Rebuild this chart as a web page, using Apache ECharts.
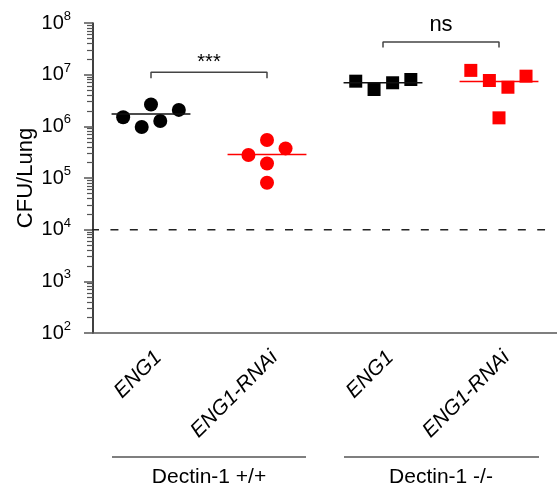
<!DOCTYPE html>
<html>
<head>
<meta charset="utf-8">
<script src="https://cdn.jsdelivr.net/npm/echarts@6/dist/echarts.min.js"></script>
<style>
  html, body { margin: 0; padding: 0; background: #fff; }
  #chart { width: 557px; height: 491px; }
</style>
</head>
<body>
<div id="chart"></div>
<script>
// categories on the x axis
const categories = ['ENG1', 'ENG1-RNAi', 'ENG1', 'ENG1-RNAi']
const groups = ['Dectin-1 +/+', 'Dectin-1 -/-']
const yTicks = [1e2, 1e3, 1e4, 1e5, 1e6, 1e7, 1e8]
const minorSteps = [2, 3, 4, 5, 6, 7, 8, 9]

// jitter (in category units) and CFU values per group
const wtEng1X = [-0.24, -0.08, 0, 0.08, 0.24]
const wtEng1Y = [1.5e6, 9.7e5, 2.64e6, 1.27e6, 2.08e6]
const wtRnaiX = [-0.16, 0, 0, 0, 0.16]
const wtRnaiY = [2.79e5, 5.45e5, 1.91e5, 8.1e4, 3.74e5]
const koEng1X = [-0.235, -0.077, 0.083, 0.24]
const koEng1Y = [7.48e6, 5.16e6, 6.97e6, 8.07e6]
const koRnaiX = [-0.243, -0.083, 0, 0.077, 0.233]
const koRnaiY = [1.21e7, 7.71e6, 1.46e6, 5.71e6, 9.35e6]

// group means (horizontal bars)
const means = [1.74e6, 2.86e5, 6.97e6, 7.38e6]
const detectionLimit = 1e4

// significance brackets
const brackets = [
  { from: 0, to: 1, top: 1.11e7, foot: 8.5e6, text: '***', textY: 1.75e7 },
  { from: 2, to: 3, top: 4.3e7, foot: 3.37e7, text: 'ns', textY: 9.0e7 }
]

const chart = echarts.init(document.getElementById('chart'))
const font = 'Liberation Sans, Arial, sans-serif'

// minor tick positions for the log axis (2..9 x each decade)
const minorValues = []
yTicks.slice(0, -1).forEach(t => minorSteps.forEach(m => minorValues.push(t * m)))

function pts(center, xs, ys) {
  return xs.map((x, i) => [center + x, ys[i]])
}

const dotSeries = [
  { data: pts(0, wtEng1X, wtEng1Y), symbol: 'circle', color: '#000', size: 14 },
  { data: pts(1, wtRnaiX, wtRnaiY), symbol: 'circle', color: '#ff0000', size: 14 },
  { data: pts(2, koEng1X, koEng1Y), symbol: 'rect', color: '#000', size: 13 },
  { data: pts(3, koRnaiX, koRnaiY), symbol: 'rect', color: '#ff0000', size: 13 }
].map(s => ({
  type: 'scatter',
  xAxisIndex: 1,
  symbol: s.symbol,
  symbolSize: s.size,
  itemStyle: { color: s.color, opacity: 1 },
  data: s.data,
  z: 3
}))

const meanSeries = means.map((m, i) => ({
  type: 'line',
  xAxisIndex: 1,
  symbol: 'none',
  lineStyle: { color: i % 2 ? '#ff0000' : '#111', width: 1.5 },
  data: [[i - 0.34, m], [i + 0.34, m]],
  z: 4
}))

const bracketSeries = brackets.map(b => ({
  type: 'line',
  xAxisIndex: 1,
  symbol: 'none',
  lineStyle: { color: '#444', width: 1.5 },
  data: [[b.from, b.foot], [b.from, b.top], [b.to, b.top], [b.to, b.foot]]
}))

const bracketText = {
  type: 'scatter',
  xAxisIndex: 1,
  symbolSize: 0,
  itemStyle: { opacity: 1 },
  data: brackets.map(b => ({
    value: [(b.from + b.to) / 2, b.textY],
    label: {
      show: true,
      position: 'inside',
      formatter: b.text,
      color: '#000',
      fontFamily: font,
      fontSize: b.text === 'ns' ? 22 : 20
    }
  }))
}

const limitSeries = {
  type: 'line',
  xAxisIndex: 1,
  symbol: 'none',
  lineStyle: { color: '#222', width: 1.5, type: [8, 11.4] },
  data: [[-0.517, detectionLimit], [3.397, detectionLimit]]
}

chart.setOption({
  animation: false,
  grid: { left: 93, top: 23, right: 0, bottom: 158 },
  xAxis: [
    {
      type: 'category',
      data: categories,
      axisLine: { lineStyle: { color: '#555', width: 1.5 } },
      axisTick: { alignWithLabel: true, length: 10, lineStyle: { color: '#555', width: 1.5 } },
      axisLabel: {
        rotate: 45,
        margin: 14,
        verticalAlign: 'top',
        fontSize: 21,
        fontStyle: 'italic',
        fontFamily: font,
        color: '#000',
        interval: 0
      }
    },
    {
      type: 'value',
      min: -0.5,
      max: 3.5,
      show: false
    }
  ],
  yAxis: [
    {
      type: 'log',
      logBase: 10,
      min: yTicks[0],
      max: yTicks[yTicks.length - 1],
      name: 'CFU/Lung',
      nameLocation: 'middle',
      nameGap: 56,
      nameMoveOverlap: false,
      nameTextStyle: { fontSize: 22, fontFamily: font, color: '#000' },
      axisLine: { show: true, onZero: false, lineStyle: { color: '#000', width: 1.5 } },
      axisTick: { show: true, length: 9, lineStyle: { color: '#555', width: 1.5 } },
      splitLine: { show: false },
      axisLabel: {
        margin: 22,
        formatter: v => '{b|10}{s|' + Math.round(Math.log10(v)) + '}',
        rich: {
          b: { fontSize: 20, fontFamily: font, color: '#000', lineHeight: 26 },
          s: { fontSize: 13, fontFamily: font, color: '#000', verticalAlign: 'top', lineHeight: 14 }
        }
      }
    },
    {
      type: 'log',
      logBase: 10,
      min: yTicks[0],
      max: yTicks[yTicks.length - 1],
      position: 'left',
      axisLine: { show: false, onZero: false },
      axisLabel: { show: false },
      splitLine: { show: false },
      axisTick: {
        show: true,
        length: 6,
        customValues: minorValues,
        lineStyle: { color: '#555', width: 1.2 }
      }
    }
  ],
  graphic: [
    { type: 'line', shape: { x1: 112, y1: 457, x2: 306, y2: 457 }, style: { stroke: '#555', lineWidth: 1.5 } },
    { type: 'line', shape: { x1: 344, y1: 457, x2: 539, y2: 457 }, style: { stroke: '#555', lineWidth: 1.5 } },
    { type: 'text', x: 209, y: 477, style: { text: groups[0], font: '21px ' + font, fill: '#000', align: 'center', verticalAlign: 'middle' } },
    { type: 'text', x: 441, y: 477, style: { text: groups[1], font: '21px ' + font, fill: '#000', align: 'center', verticalAlign: 'middle' } }
  ],
  series: [limitSeries, ...bracketSeries, bracketText, ...meanSeries, ...dotSeries]
})
</script>
</body>
</html>
